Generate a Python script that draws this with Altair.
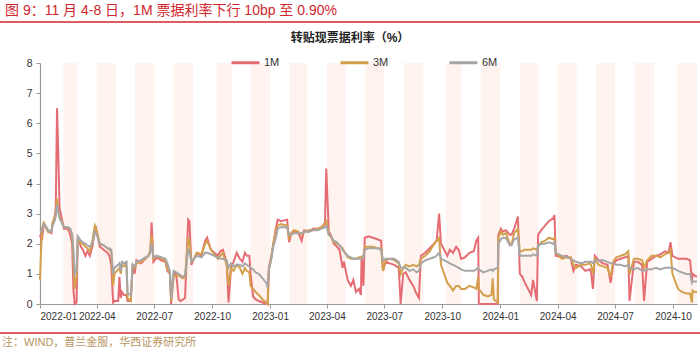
import altair as alt
import pandas as pd

# ---------------- data ----------------
dates = [
    "2022-01-01", "2022-01-04", "2022-01-07", "2022-01-11", "2022-01-14", "2022-01-19", "2022-01-21",
    "2022-01-24", "2022-01-26", "2022-01-28", "2022-01-30", "2022-02-01", "2022-02-08", "2022-02-14",
    "2022-02-18", "2022-02-21", "2022-02-23", "2022-02-25", "2022-02-28", "2022-03-02", "2022-03-07",
    "2022-03-10", "2022-03-14", "2022-03-17", "2022-03-21", "2022-03-25", "2022-03-29", "2022-03-31",
    "2022-04-06", "2022-04-12", "2022-04-18", "2022-04-21", "2022-04-24", "2022-04-27", "2022-04-29",
    "2022-05-05", "2022-05-07", "2022-05-09", "2022-05-11", "2022-05-14", "2022-05-18", "2022-05-20",
    "2022-05-25", "2022-05-28", "2022-05-31", "2022-06-03", "2022-06-10", "2022-06-17", "2022-06-22",
    "2022-06-25", "2022-06-27", "2022-06-30", "2022-07-05", "2022-07-12", "2022-07-19", "2022-07-22",
    "2022-07-26", "2022-07-28", "2022-08-01", "2022-08-05", "2022-08-09", "2022-08-12", "2022-08-16",
    "2022-08-19", "2022-08-24", "2022-08-26", "2022-08-29", "2022-09-02", "2022-09-07", "2022-09-14",
    "2022-09-20", "2022-09-23", "2022-09-29", "2022-10-10", "2022-10-14", "2022-10-18", "2022-10-24",
    "2022-10-27", "2022-10-31", "2022-11-04", "2022-11-09", "2022-11-14", "2022-11-18", "2022-11-22",
    "2022-11-25", "2022-11-29", "2022-12-01", "2022-12-05", "2022-12-09", "2022-12-14", "2022-12-20",
    "2022-12-26", "2022-12-28", "2022-12-30",
    "2023-01-03", "2023-01-06", "2023-01-10", "2023-01-13", "2023-01-18", "2023-01-28", "2023-01-31",
    "2023-02-03", "2023-02-08", "2023-02-14", "2023-02-20", "2023-02-24", "2023-03-03", "2023-03-10",
    "2023-03-17", "2023-03-24", "2023-03-29", "2023-03-31", "2023-04-04", "2023-04-07", "2023-04-12",
    "2023-04-17", "2023-04-21", "2023-04-26", "2023-04-28", "2023-05-04", "2023-05-09", "2023-05-13",
    "2023-05-17", "2023-05-22", "2023-05-25", "2023-05-26", "2023-05-29", "2023-05-31", "2023-06-06",
    "2023-06-13", "2023-06-20", "2023-06-26", "2023-06-29", "2023-07-03", "2023-07-10", "2023-07-17",
    "2023-07-24", "2023-07-27", "2023-07-31", "2023-08-04", "2023-08-10", "2023-08-16", "2023-08-21",
    "2023-08-25", "2023-08-28", "2023-09-04", "2023-09-11", "2023-09-18", "2023-09-22", "2023-09-26",
    "2023-09-29", "2023-10-09", "2023-10-13", "2023-10-18", "2023-10-23", "2023-10-27", "2023-10-31",
    "2023-11-06", "2023-11-13", "2023-11-20", "2023-11-24", "2023-11-27", "2023-11-28", "2023-12-05",
    "2023-12-12", "2023-12-18", "2023-12-20", "2023-12-22", "2023-12-28", "2023-12-29",
    "2024-01-02", "2024-01-05", "2024-01-10", "2024-01-16", "2024-01-19", "2024-01-23", "2024-01-29",
    "2024-02-01", "2024-02-05", "2024-02-08", "2024-02-19", "2024-02-22", "2024-02-28", "2024-03-01",
    "2024-03-06", "2024-03-12", "2024-03-18", "2024-03-25", "2024-03-27", "2024-03-29", "2024-04-08",
    "2024-04-15", "2024-04-22", "2024-04-26", "2024-04-30", "2024-05-08", "2024-05-15", "2024-05-22",
    "2024-05-24", "2024-05-27", "2024-05-30", "2024-06-05", "2024-06-12", "2024-06-19", "2024-06-24",
    "2024-06-28", "2024-07-03", "2024-07-10", "2024-07-17", "2024-07-22", "2024-07-24", "2024-07-31",
    "2024-08-06", "2024-08-13", "2024-08-16", "2024-08-21", "2024-08-28", "2024-09-04", "2024-09-11",
    "2024-09-18", "2024-09-24", "2024-09-27", "2024-09-30", "2024-10-09", "2024-10-15", "2024-10-22",
    "2024-10-28", "2024-10-31", "2024-11-01", "2024-11-04", "2024-11-08",
]

m1 = [
    2.3, 2.1, 2.7, 2.5, 2.4, 2.35, 2.7,
    2.8, 3.2, 6.5, 5.0, 3.2, 2.5, 2.5,
    2.3, 2.0, 0.5, 0.0, 0.05, 2.2, 1.9,
    1.8, 1.6, 1.75, 1.6, 1.9, 2.4, 2.5,
    1.9, 1.8, 1.7, 1.6, 1.3, 0.05, 0.1,
    0.1, 0.9, 0.2, 0.4, 0.3, 0.3, 0.1,
    0.1, 1.3, 1.0, 1.45, 1.35, 1.5, 1.6,
    1.75, 2.7, 1.4, 1.55, 1.45, 1.4, 1.1,
    1.0, 0.0, 1.0, 1.0, 0.15, 0.1, 0.15,
    0.2, 2.8, 2.75, 1.3, 1.5, 1.7, 1.6,
    2.1, 2.2, 1.8, 1.6, 1.75, 1.8, 1.4,
    0.05, 1.2, 1.4, 1.7, 1.5, 1.4, 1.7,
    1.6, 1.6, 1.0, 0.25, 0.15, 0.1, 0.05,
    0.0, 0.0, 1.2,
    1.6, 2.0, 2.5, 2.8, 2.75, 2.8, 2.05,
    2.3, 2.4, 2.4, 2.1, 2.45, 2.4, 2.5,
    2.5, 2.55, 2.7, 4.5, 2.4, 2.3, 2.0,
    1.9, 1.8, 1.2, 1.4, 0.8, 0.6, 0.8,
    0.4, 0.5, 0.3, 1.6, 0.6, 2.2, 2.25,
    2.2, 2.15, 2.1, 1.1, 1.4, 1.35, 1.3,
    1.2, 0.0, 1.0, 1.05, 0.8, 0.6, 0.35,
    0.2, 1.6, 1.7, 1.85, 2.0, 2.1, 3.0,
    2.0, 1.6, 1.8, 1.7, 1.9, 1.8, 1.5,
    1.55, 1.7, 1.75, 2.1, 2.2, 0.0, 0.0,
    0.0, 0.0, 0.0, 0.0, 0.0, 2.3,
    2.5, 2.4, 2.45, 2.3, 2.3, 2.5, 2.9,
    1.0, 0.9, 0.75, 0.3, 0.8, 0.1, 2.3,
    2.45, 2.6, 2.75, 2.85, 2.95, 1.6, 1.55,
    1.6, 1.5, 1.1, 1.3, 1.25, 1.1, 1.15,
    1.05, 0.5, 1.6, 1.45, 1.35, 1.3, 0.7,
    1.3, 1.45, 1.5, 1.55, 1.6, 0.1, 1.4,
    1.4, 1.3, 0.1, 1.4, 1.5, 1.6, 1.65,
    1.75, 1.7, 2.05, 1.6, 1.5, 1.5, 1.5,
    1.45, 0.75, 1.0, 0.95, 0.9,
]

m3 = [
    0.8, 2.5, 2.7, 2.55, 2.4, 2.4, 2.7,
    2.9, 3.0, 3.5, 3.1, 2.9, 2.55, 2.55,
    2.45, 2.3, 1.5, 0.5, 0.9, 2.2, 2.0,
    2.0, 1.9, 1.85, 1.75, 2.1, 2.6, 2.5,
    2.0, 1.95, 1.85, 1.8, 1.75, 0.6, 1.0,
    1.15, 1.2, 1.0, 1.3, 1.25, 1.35, 0.2,
    0.1, 1.3, 1.2, 1.35, 1.4, 1.5, 1.6,
    1.8, 2.3, 1.5, 1.6, 1.5, 1.45, 1.2,
    1.0, 0.1, 0.9, 0.95, 0.95, 0.9, 0.85,
    0.9, 2.2, 2.1, 1.4, 1.5, 1.7, 1.65,
    2.0, 2.1, 1.8, 1.5, 1.6, 1.7, 1.3,
    0.6, 1.2, 1.1, 1.3, 1.2, 1.0, 1.2,
    1.1, 1.05, 0.6, 0.5, 0.4, 0.3, 0.15,
    0.05, 0.0, 1.1,
    1.55, 2.0, 2.4, 2.6, 2.65, 2.6, 2.2,
    2.35, 2.45, 2.4, 2.3, 2.4, 2.45, 2.45,
    2.5, 2.55, 2.65, 2.8, 2.3, 2.25, 2.05,
    2.0, 1.95, 1.85, 1.75, 1.55, 1.5, 1.5,
    1.5, 1.55, 1.55, 1.55, 1.6, 1.9, 1.9,
    1.9, 1.85, 1.85, 1.1, 1.45, 1.5, 1.45,
    1.35, 1.0, 1.2, 1.3, 1.25, 1.3, 1.25,
    1.3, 1.5, 1.6, 1.75, 2.0, 2.1, 2.2,
    1.3, 0.7, 0.6, 0.45, 0.6, 0.6, 0.5,
    0.5, 0.6, 0.55, 0.5, 0.9, 0.5, 0.3,
    0.25, 0.3, 0.85, 0.15, 0.05, 2.2,
    2.4, 2.3, 2.35, 2.0, 2.0, 2.35, 2.5,
    1.75, 1.75, 1.8, 1.8, 1.85, 1.8, 1.9,
    2.05, 2.1, 2.2, 2.15, 2.2, 1.7, 1.5,
    1.55, 1.55, 1.3, 1.2, 1.3, 1.3, 1.35,
    1.3, 1.0, 1.5, 1.3, 1.25, 1.2, 0.9,
    1.4, 1.55, 1.6, 1.65, 1.75, 1.0, 1.5,
    1.5, 1.45, 1.2, 1.45, 1.6, 1.6, 1.55,
    1.65, 1.7, 1.8, 1.0, 0.5, 0.4, 0.35,
    0.35, 0.05, 0.45, 0.4, 0.4,
]

m6 = [
    2.4, 2.45, 2.65, 2.55, 2.45, 2.4, 2.6,
    2.75, 2.9, 3.3, 3.1, 2.85, 2.55, 2.55,
    2.5, 2.3, 1.8, 1.0, 1.1, 2.25, 2.1,
    2.05, 2.0, 1.95, 1.9, 2.0, 2.4, 2.35,
    2.0, 1.95, 1.85, 1.85, 1.8, 1.0, 1.2,
    1.3, 1.35, 1.1, 1.4, 1.35, 1.4, 0.35,
    0.3, 1.3, 1.25, 1.4, 1.45, 1.55, 1.6,
    1.7, 2.0, 1.55, 1.6, 1.55, 1.5, 1.35,
    1.1, 0.2, 1.1, 1.05, 1.0, 0.95, 0.9,
    0.95, 1.8, 1.75, 1.4, 1.5, 1.6, 1.55,
    1.7, 1.7, 1.65, 1.55, 1.5, 1.5, 1.45,
    1.2, 1.35, 1.25, 1.3, 1.3, 1.25, 1.35,
    1.3, 1.25, 1.2, 1.15, 1.05, 1.0, 0.85,
    0.7, 0.55, 1.15,
    1.5, 1.9, 2.2, 2.5, 2.55, 2.55, 2.3,
    2.3, 2.35, 2.35, 2.35, 2.4, 2.4, 2.45,
    2.45, 2.5, 2.55, 2.6, 2.3, 2.25, 2.1,
    2.05, 1.95, 1.8, 1.75, 1.6, 1.55, 1.5,
    1.5, 1.5, 1.5, 1.5, 1.55, 1.8, 1.85,
    1.85, 1.85, 1.8, 1.45, 1.5, 1.5, 1.5,
    1.4, 1.2, 1.2, 1.2, 1.1, 1.15, 1.05,
    1.1, 1.35, 1.45, 1.5, 1.55, 1.6, 1.7,
    1.5, 1.4, 1.35, 1.3, 1.25, 1.2, 1.15,
    1.1, 1.1, 1.1, 1.15, 1.2, 1.15, 1.05,
    1.1, 1.15, 1.1, 1.15, 1.2, 2.0,
    2.15, 2.2, 2.2, 1.95, 1.95, 2.15, 2.2,
    1.6, 1.6, 1.6, 1.6, 1.65, 1.6, 1.95,
    2.0, 2.0, 2.05, 2.0, 2.05, 1.7, 1.6,
    1.55, 1.5, 1.45, 1.4, 1.35, 1.4, 1.4,
    1.4, 1.35, 1.45, 1.45, 1.45, 1.4, 1.35,
    1.35, 1.3, 1.3, 1.25, 1.3, 1.2, 1.15,
    1.2, 1.1, 1.1, 1.15, 1.15, 1.2, 1.15,
    1.2, 1.2, 1.2, 1.2, 1.1, 1.05, 1.0,
    1.0, 0.7, 0.75, 0.75, 0.75,
]

series_names = ["1M", "3M", "6M"]
series_colors = ["#E66C74", "#D4A04C", "#A6A6A6"]

# even-month shading (trading days of Feb/Apr/Jun/Aug/Oct/Dec)
band_start = ["2022-02-07", "2022-04-01", "2022-06-01", "2022-08-01", "2022-10-08", "2022-12-01",
              "2023-02-01", "2023-04-01", "2023-06-01", "2023-08-01", "2023-10-07", "2023-12-01",
              "2024-02-01", "2024-04-01", "2024-06-01", "2024-08-01", "2024-10-08"]
band_end = ["2022-03-01", "2022-05-01", "2022-07-01", "2022-09-01", "2022-11-01", "2023-01-01",
            "2023-03-01", "2023-05-01", "2023-07-01", "2023-09-01", "2023-11-01", "2024-01-01",
            "2024-03-01", "2024-05-01", "2024-07-01", "2024-09-01", "2024-11-08"]

x_tick_months = [(2022, 1), (2022, 4), (2022, 7), (2022, 10), (2023, 1), (2023, 4), (2023, 7),
                 (2023, 10), (2024, 1), (2024, 4), (2024, 7), (2024, 10)]
y_ticks = [0, 1, 2, 3, 4, 5, 6, 7, 8]

title_text = "图 9：11 月 4-8 日，1M 票据利率下行 10bp 至 0.90%"
chart_title = "转贴现票据利率（%）"
source_text = "注：WIND，普兰金服，华西证券研究所"

# ---------------- build ----------------
FONT = "Liberation Sans, Noto Sans CJK SC, sans-serif"
RED = "#D0262D"
TAN = "#B8945E"

df = pd.DataFrame({"date": pd.to_datetime(dates), "1M": m1, "3M": m3, "6M": m6})
long_df = df.melt("date", var_name="series", value_name="rate")
bands = pd.DataFrame({"start": pd.to_datetime(band_start), "end": pd.to_datetime(band_end)})

W, H = 657, 241
PAD_L, PAD_T, PAD_R, PAD_B = 40, 63, 3, 48

x_scale = alt.Scale(domain=[alt.DateTime(year=2022, month=1, date=1),
                            alt.DateTime(year=2024, month=11, date=8)], nice=False)
x_axis = alt.Axis(
    title=None, format="%Y-%m", grid=False, labelOverlap=False,
    values=[alt.DateTime(year=y, month=m, date=1) for y, m in x_tick_months],
    domainColor="#9A9A9A", tickColor="#9A9A9A", tickSize=4, domainWidth=1.2,
    labelFontSize=10, labelColor="#333333", labelFont=FONT, labelPadding=3,
)
y_scale = alt.Scale(domain=[0, 8], nice=False)
y_axis = alt.Axis(
    title=None, values=y_ticks, grid=False, format="d",
    domainColor="#9A9A9A", tickColor="#9A9A9A", tickSize=4, domainWidth=1.2,
    labelFontSize=10.5, labelColor="#333333", labelFont=FONT, labelPadding=4,
)
color_scale = alt.Scale(domain=series_names, range=series_colors)
legend = alt.Legend(
    orient="none", legendX=190, legendY=-16, direction="horizontal", title=None,
    symbolType="stroke", symbolSize=784, symbolStrokeWidth=3, padding=0,
    labelFontSize=11, labelFont=FONT, labelColor="#333333", labelOffset=3,
    columnPadding=54,
)

band_layer = alt.Chart(bands).mark_rect(color="#FEF3EF").encode(
    x=alt.X("start:T", scale=x_scale, axis=x_axis),
    x2="end:T",
)

line_layers = []
for s in series_names:
    line_layers.append(
        alt.Chart(long_df).transform_filter(alt.datum.series == s).mark_line(strokeWidth=2).encode(
            x=alt.X("date:T", scale=x_scale, axis=x_axis),
            y=alt.Y("rate:Q", scale=y_scale, axis=y_axis),
            color=alt.Color("series:N", scale=color_scale, legend=legend),
        )
    )

one = pd.DataFrame({"k": [0]})

head_text = alt.Chart(pd.DataFrame({"t": [title_text]})).mark_text(
    align="left", baseline="middle", fontSize=14, color=RED, font=FONT
).encode(x=alt.value(5 - PAD_L), y=alt.value(11 - PAD_T), text="t:N")

head_rule = alt.Chart(one).mark_rule(color=RED, strokeWidth=1.5).encode(
    x=alt.value(-PAD_L), x2=alt.value(W + PAD_R), y=alt.value(22 - PAD_T)
)

ctitle = alt.Chart(pd.DataFrame({"t": [chart_title]})).mark_text(
    align="center", baseline="middle", fontSize=12, fontWeight="bold", color="#222222", font=FONT
).encode(x=alt.value(350 - PAD_L), y=alt.value(38 - PAD_T), text="t:N")

foot_rule = alt.Chart(one).mark_rule(color=RED, strokeWidth=1.5).encode(
    x=alt.value(-PAD_L), x2=alt.value(W + PAD_R), y=alt.value(333 - PAD_T)
)

foot_text = alt.Chart(pd.DataFrame({"t": [source_text]})).mark_text(
    align="left", baseline="middle", fontSize=11, color=TAN, font=FONT
).encode(x=alt.value(2 - PAD_L), y=alt.value(343 - PAD_T), text="t:N")

chart = alt.layer(
    band_layer, *line_layers, head_text, head_rule, ctitle, foot_rule, foot_text
).properties(
    width=W, height=H,
    padding={"left": PAD_L, "top": PAD_T, "right": PAD_R, "bottom": PAD_B},
    autosize=alt.AutoSizeParams(type="none"),
    background="white",
).configure_view(stroke=None)

chart.save("out.html", embed_options={"renderer": "svg", "actions": False})
